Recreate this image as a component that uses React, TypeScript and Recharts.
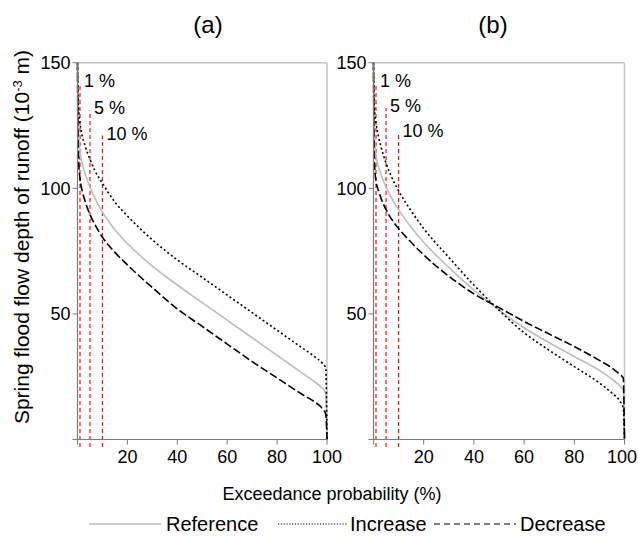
import React from 'react';
import { LineChart, Line, XAxis, YAxis, ReferenceLine } from 'recharts';

// exceedance probability (%) shared by all curves
const prob = [0, 0.2, 0.5, 1, 2, 3, 5, 7, 10, 15, 20, 30, 40, 50, 60, 70, 80, 90, 95, 98, 99.5, 100];

// panel (a)
const refA = [148, 130, 121, 114.6, 109.5, 106, 100.5, 96, 90.5, 83.5, 78, 69, 61.5, 54.5, 47.5, 40.5, 33.5, 26.5, 23, 20.5, 18.5, 0];
const incA = [150, 138, 131, 126, 120.5, 117, 111.5, 107, 102, 94.5, 89, 79.5, 71.5, 64.5, 57.5, 50.5, 43.5, 36.5, 33, 30.5, 28.5, 0];
const decA = [150, 122, 110, 104, 98.5, 95, 89.5, 85.5, 80.5, 74.5, 69.5, 60.5, 52, 45, 38, 31, 24.5, 18, 15, 12.5, 10, 0];

// panel (b)
const refB = [148, 128, 118, 113, 108.5, 105.5, 100.5, 96.5, 91.5, 84.5, 78.5, 68.5, 59.5, 51.5, 44.5, 38.5, 33, 27.5, 24, 21.5, 19.5, 0];
const incB = [150, 137, 130, 126, 120.5, 116.5, 110, 105, 99, 91, 84, 72.5, 61.5, 51.5, 42.5, 35.5, 29, 22.5, 18.5, 15.5, 12.5, 0];
const decB = [150, 118, 108, 103, 99, 96, 91.5, 88, 84, 78.5, 73.5, 65, 58, 52.5, 47, 42, 37, 31.5, 28.5, 26, 24.5, 0];

// red markers: probability, height of the dashed line, label
const markerPct = [1, 5, 10];
const markerTopA = [142, 131, 121];
const markerTopB = [142, 132, 122];
const markerLabels = ['1 %', '5 %', '10 %'];

const xTicks = [0, 20, 40, 60, 80, 100];
const yTicks = [0, 50, 100, 150];

const FONT = '"Liberation Sans", Arial, sans-serif';
const AXIS = '#7a7a7a';
const BORDER = '#c4c4c4';

const build = (r: number[], i: number[], d: number[]) =>
  prob.map((p, k) => ({ p, reference: r[k], increase: i[k], decrease: d[k] }));

const PctLabel = (props: any) => {
  const { viewBox, pct } = props;
  return (
    <text x={viewBox.x + 4} y={viewBox.y + 4} fontSize={18} fill="#000" fontFamily={FONT}>
      {pct}
    </text>
  );
};

// x tick label, kept inside the chart's own svg so the last "100" is not clipped
const XTick = (props: any) => {
  const { x, y, payload, maxX } = props;
  if (payload.value === 0) return null;
  const half = 15;
  const cx = Math.min(x, maxX - half - 1);
  return (
    <text x={cx} y={y + 16} textAnchor="middle" fontSize={18} fill="#000" fontFamily={FONT}>
      {payload.value}
    </text>
  );
};

const Panel = ({ data, tops, width, right }: any) => (
  <LineChart width={width} height={480} data={data} margin={{ top: 62.7, right, bottom: 10.5, left: 0 }}>
    <XAxis
      type="number"
      dataKey="p"
      domain={[0, 100]}
      ticks={xTicks}
      tick={<XTick maxX={width} />}
      axisLine={{ stroke: AXIS, strokeWidth: 1.2 }}
      tickLine={{ stroke: AXIS }}
      tickSize={5}
      height={30}
    />
    <YAxis
      type="number"
      domain={[0, 150]}
      ticks={yTicks}
      tickFormatter={(v: number) => (v === 0 ? '' : String(v))}
      tick={{ fontSize: 18, fill: '#000', fontFamily: FONT }}
      axisLine={{ stroke: AXIS, strokeWidth: 1.2 }}
      tickLine={{ stroke: AXIS }}
      tickSize={5}
      width={77.5}
    />
    <ReferenceLine y={150} stroke={BORDER} strokeWidth={1.5} />
    <ReferenceLine x={100} stroke={BORDER} strokeWidth={1.5} />
    {markerPct.map((m, k) => (
      <ReferenceLine
        key={m}
        segment={[{ x: m, y: -3 }, { x: m, y: tops[k] }]}
        stroke="#f01010"
        strokeWidth={1.2}
        strokeDasharray="4 3"
        ifOverflow="visible"
        label={<PctLabel pct={markerLabels[k]} />}
      />
    ))}
    <Line type="monotone" dataKey="reference" stroke="#bdbdbd" strokeWidth={1.6} dot={false} isAnimationActive={false} />
    <Line type="monotone" dataKey="increase" stroke="#000" strokeWidth={1.6} strokeDasharray="2 2.5" dot={false} isAnimationActive={false} />
    <Line type="monotone" dataKey="decrease" stroke="#000" strokeWidth={1.6} strokeDasharray="8 3" dot={false} isAnimationActive={false} />
  </LineChart>
);

export default function App() {
  const dataA = build(refA, incA, decA);
  const dataB = build(refB, incB, decB);
  return (
    <div style={{ position: 'absolute', left: 0, top: 0, width: 638, height: 537, background: '#fff', fontFamily: FONT, overflow: 'hidden' }}>
      <div style={{ position: 'absolute', left: 0, top: 0 }}>
        <Panel data={dataA} tops={markerTopA} width={360} right={33} />
      </div>
      <div style={{ position: 'absolute', left: 296, top: 0 }}>
        <Panel data={dataB} tops={markerTopB} width={342} right={13.5} />
      </div>
      <svg width={638} height={537} style={{ position: 'absolute', left: 0, top: 0, pointerEvents: 'none' }}>
        <text x={208} y={33} fontSize={24} textAnchor="middle" fontFamily={FONT}>(a)</text>
        <text x={493} y={33} fontSize={24} textAnchor="middle" fontFamily={FONT}>(b)</text>
        <text transform="translate(29,237) rotate(-90)" fontSize={21} textAnchor="middle" fontFamily={FONT}>
          Spring flood flow depth of runoff (10
          <tspan dy={-7} fontSize={13}>-3</tspan>
          <tspan dy={7}> m)</tspan>
        </text>
        <text x={332} y={500} fontSize={18} textAnchor="middle" fontFamily={FONT}>Exceedance probability (%)</text>
        <line x1={89} y1={524} x2={161} y2={524} stroke="#bdbdbd" strokeWidth={1.5} />
        <text x={166} y={531} fontSize={20} fontFamily={FONT}>Reference</text>
        <line x1={278} y1={524} x2={347} y2={524} stroke="#000" strokeWidth={1.2} strokeDasharray="1.2 1.6" />
        <text x={350} y={531} fontSize={20} fontFamily={FONT}>Increase</text>
        <line x1={434} y1={524} x2={516} y2={524} stroke="#000" strokeWidth={1.2} strokeDasharray="6 4" />
        <text x={520} y={531} fontSize={20} fontFamily={FONT}>Decrease</text>
      </svg>
    </div>
  );
}
